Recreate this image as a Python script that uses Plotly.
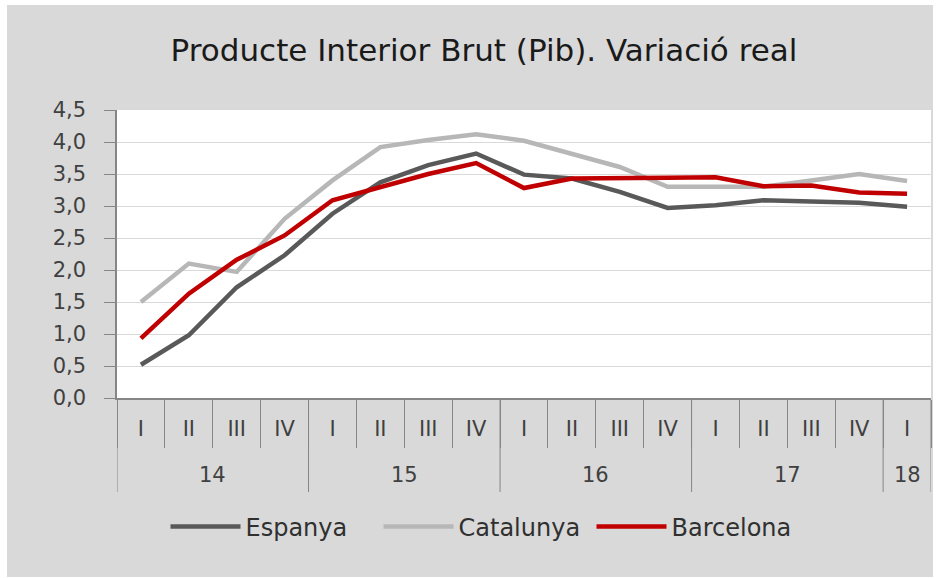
import plotly.graph_objects as go

years = ["14"] * 4 + ["15"] * 4 + ["16"] * 4 + ["17"] * 4 + ["18"]
quarters = ["I", "II", "III", "IV"] * 4 + ["I"]

espanya = [0.52, 0.98, 1.73, 2.23, 2.88, 3.37, 3.64, 3.82, 3.49, 3.43, 3.22, 2.97, 3.01, 3.09, 3.07, 3.05, 2.99]
catalunya = [1.50, 2.10, 1.97, 2.80, 3.40, 3.92, 4.03, 4.12, 4.02, 3.82, 3.61, 3.30, 3.30, 3.30, 3.40, 3.50, 3.39]
barcelona = [0.93, 1.63, 2.16, 2.54, 3.09, 3.29, 3.50, 3.67, 3.28, 3.43, 3.43, 3.44, 3.45, 3.31, 3.32, 3.21, 3.19]

series_names = ["Espanya", "Catalunya", "Barcelona"]
series_values = [espanya, catalunya, barcelona]
series_colors = ["#595959", "#b7b7b7", "#c00000"]

y_ticks = [0, 0.5, 1, 1.5, 2, 2.5, 3, 3.5, 4, 4.5]

W, H = 938, 578
L, R, T, B = 117, 7, 110, 180
pw, ph = W - L - R, H - T - B
AXIS_COL = "#868686"
TXT_COL = "#404040"

idx = list(range(len(quarters)))

fig = go.Figure()
for name, vals, col in zip(series_names, series_values, series_colors):
    fig.add_trace(go.Scatter(
        x=idx, y=vals, name=name, mode="lines",
        line=dict(color=col, width=4.5),
    ))

# gray chart background with white page border
fig.add_shape(type="rect", xref="paper", yref="paper", layer="below",
              x0=(7 - L) / pw, x1=(933 - L) / pw,
              y0=(T + ph - 577) / ph, y1=(T + ph - 5) / ph,
              fillcolor="#d9d9d9", line=dict(width=0))
fig.add_shape(type="rect", xref="paper", yref="paper", layer="below",
              x0=0, x1=1, y0=0, y1=1,
              fillcolor="#ffffff", line=dict(width=0))

# year group dividers and labels (second level of the category axis)
groups = []
for i, yv in enumerate(years):
    if not groups or groups[-1][0] != yv:
        groups.append([yv, i, i])
    else:
        groups[-1][2] = i
boundaries = sorted({g[1] - 0.5 for g in groups} | {groups[-1][2] + 0.5})
for bx in boundaries:
    fig.add_shape(type="line", xref="x", yref="paper", layer="above",
                  x0=bx, x1=bx, y0=0, y1=-94 / ph,
                  line=dict(color=AXIS_COL, width=1))
for yv, i0, i1 in groups:
    fig.add_annotation(x=(i0 + i1) / 2, xref="x", y=-77 / ph, yref="paper",
                       text=yv, showarrow=False, xanchor="center", yanchor="middle",
                       font=dict(family="DejaVu Sans", size=21, color=TXT_COL))

fig.update_layout(
    width=W, height=H,
    margin=dict(l=L, r=R, t=T, b=B, autoexpand=False),
    paper_bgcolor="#ffffff",
    plot_bgcolor="#ffffff",
    separators=",.",
    title=dict(text="Producte Interior Brut (Pib). Variació real",
               x=484 / W, xref="container", xanchor="center",
               y=1 - 50 / H, yref="container", yanchor="middle",
               font=dict(family="DejaVu Sans", size=31, color="#1a1a1a")),
    legend=dict(orientation="h", x=(485 - L) / pw, xanchor="center",
                y=(ph + T - 527) / ph, yanchor="middle",
                font=dict(family="DejaVu Sans", size=24, color="#303030"),
                bgcolor="rgba(0,0,0,0)", itemwidth=70,
                entrywidth=128, entrywidthmode="pixels"),
    showlegend=True,
    hovermode=False,
)

fig.update_yaxes(
    range=[0, 4.5], tickvals=y_ticks, tickformat=".1f",
    showgrid=True, gridcolor="#d9d9d9", gridwidth=1,
    showline=True, linecolor=AXIS_COL, linewidth=1.5,
    ticks="outside", ticklen=11, tickcolor=AXIS_COL, tickwidth=1,
    ticklabelstandoff=14,
    tickfont=dict(family="DejaVu Sans", size=21, color=TXT_COL),
    zeroline=False, automargin=False,
)
fig.update_xaxes(
    range=[-0.5, len(quarters) - 0.5],
    tickvals=idx, ticktext=quarters, ticks="",
    showgrid=False, zeroline=False, automargin=False,
    showline=True, linecolor=AXIS_COL, linewidth=1.5,
    ticklabelstandoff=11,
    tickfont=dict(family="DejaVu Sans", size=21, color=TXT_COL),
    minor=dict(tickvals=[i - 0.5 for i in range(len(quarters) + 1)],
               ticks="outside", ticklen=48, tickcolor=AXIS_COL, tickwidth=1,
               showgrid=False),
)

fig.write_html("out.html", config={"displayModeBar": False},
               post_script="document.body.style.margin='0px';")
